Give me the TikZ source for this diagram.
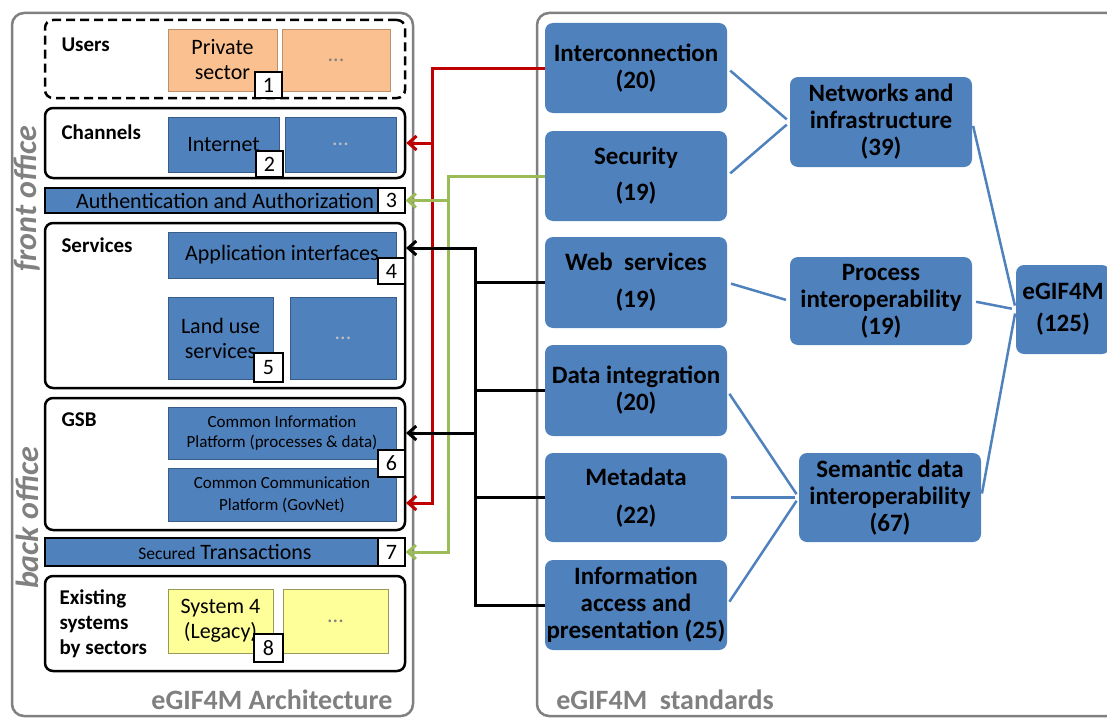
\documentclass[tikz,border=0pt]{standalone}
\usepackage{fontspec}
\setmainfont{Carlito}
\usetikzlibrary{arrows.meta}
\definecolor{stdblue}{RGB}{79,129,189}
\definecolor{edgeblue}{RGB}{56,93,138}
\definecolor{peach}{RGB}{250,192,143}
\definecolor{paleyellow}{RGB}{255,255,153}
\definecolor{panelgray}{RGB}{128,128,128}
\definecolor{linkred}{RGB}{192,0,0}
\definecolor{linkgreen}{RGB}{155,187,89}
\newcommand{\fsz}[2]{\fontsize{#1}{#2}\selectfont}

\begin{document}
\begin{tikzpicture}[x=1pt, y=-1pt,
  panel/.style={draw=panelgray, line width=2.5, rounded corners=12},
  tier/.style={draw, line width=2.5, rounded corners=8, inner sep=0, minimum width=360},
  part/.style={draw=edgeblue, line width=0.8, fill=stdblue, inner sep=0, align=center, font=\fsz{22}{25}},
  userpart/.style={part, draw=peach!75!black, fill=peach},
  legacypart/.style={part, draw=paleyellow!60!black, fill=paleyellow},
  num/.style={draw, fill=white, line width=1.2, inner sep=0, minimum width=27, minimum height=26, font=\fsz{22}{22}},
  tiername/.style={anchor=west, align=left, font=\bfseries\fsz{21}{25}},
  std/.style={fill=stdblue, rounded corners=8, inner sep=0, align=center, minimum width=182, font=\bfseries\fsz{25}{27}},
  paneltitle/.style={text=panelgray, font=\bfseries\fsz{28}{28}},
  office/.style={text=panelgray, rotate=90, font=\bfseries\itshape\fsz{32}{32}},
  link/.style={draw=stdblue, line width=2.5, shorten <=4, shorten >=4},
  bus/.style={line width=3},
  feed/.style={bus, -{Straight Barb[length=8, width=14]}},
]
\useasboundingbox (0,0) rectangle (1107,717);
\clip (0,0) rectangle (1107,717);
% panels
\draw[panel] (12,13) rectangle (413,716);
\draw[panel] (537,13) rectangle (1120,716);
\node[paneltitle, anchor=east] (archtitle) at (396,700) {eGIF4M Architecture};
\node[paneltitle] (stdtitle) at (665,700) {eGIF4M\ \ standards};
\node[office] (front) at (27,199) {front office};
\node[office] (back) at (27,518) {back office};
% users
\node[tier, dash pattern=on 9pt off 5pt, minimum height=78] (users) at (225,59) {};
\node[tiername] (usersname) at (58,45) {Users};
\node[userpart, minimum width=109, minimum height=62] (private) at (222.5,60) {Private\\sector};
\node[userpart, minimum width=108, minimum height=62, text=gray] (dotsA) at (336,60) {...};
\node[num] (num1) at (268.5,85) {1};
% channels
\node[tier, minimum height=70] (channels) at (225,143) {};
\node[tiername] (channelsname) at (58,132) {Channels};
\node[part, minimum width=111, minimum height=55] (internet) at (223.5,144.5) {Internet};
\node[part, minimum width=111, minimum height=55, text=lightgray] (dotsB) at (340.5,144.5) {...};
\node[num] (num2) at (269.5,164) {2};
% authentication
\node[part, draw=black, line width=1.5, minimum width=360, minimum height=25] (auth) at (225,200.5) {Authentication and Authorization};
\node[num, minimum height=25] (num3) at (391.5,200.5) {3};
% services
\node[tier, minimum height=165] (services) at (225,305.5) {};
\node[tiername] (servicesname) at (58,245) {Services};
\node[part, minimum width=228, minimum height=46] (appif) at (282,255) {Application interfaces};
\node[num] (num4) at (391.5,271) {4};
\node[part, minimum width=105, minimum height=82] (landuse) at (220.5,338) {Land use\\services};
\node[part, minimum width=106, minimum height=82, text=lightgray] (dotsC) at (343,338) {...};
\node[num, minimum width=29, minimum height=29] (num5) at (268.5,367.5) {5};
% gsb
\node[tier, minimum height=132] (gsb) at (225,464) {};
\node[tiername] (gsbname) at (58,420) {GSB};
\node[part, minimum width=228, minimum height=52, font=\fsz{17}{20}] (cip) at (282,433) {Common Information\\Platform (processes \& data)};
\node[part, minimum width=228, minimum height=53, font=\fsz{17}{22}] (ccp) at (282,494.5) {Common Communication\\Platform (GovNet)};
\node[num, minimum height=27] (num6) at (391.5,463.5) {6};
% secured transactions
\node[part, draw=black, line width=1.5, minimum width=360, minimum height=28] (secured) at (225,552) {{\fsz{17.5}{22}Secured} Transactions};
\node[num, minimum height=28] (num7) at (391.5,552) {7};
% existing systems
\node[tier, minimum height=95] (existing) at (225,623.5) {};
\node[tiername] (existingname) at (56,624) {Existing\\systems\\by sectors};
\node[legacypart, minimum width=105, minimum height=64] (system4) at (220.5,621) {System 4\\(Legacy)};
\node[legacypart, minimum width=105, minimum height=64, text=gray] (dotsD) at (335.5,621) {...};
\node[num, minimum width=29, minimum height=28] (num8) at (268.5,648) {8};
% standards
\node[std, minimum height=90] (interconn) at (636,68) {Interconnection\\(20)};
\node[std, minimum height=90] (security) at (636,176) {Security\\[9pt](19)};
\node[std, minimum height=91] (webserv) at (636,282.5) {Web\ \ services\\[10pt](19)};
\node[std, minimum height=91] (datainteg) at (636,390.5) {Data integration\\(20)};
\node[std, minimum height=89] (metadata) at (636,497.5) {Metadata\\[11pt](22)};
\node[std, minimum height=90] (info) at (636,605) {Information\\access and\\presentation (25)};
% groups
\node[std, minimum height=90] (networks) at (881,122) {Networks and\\infrastructure\\(39)};
\node[std, minimum height=88] (process) at (881,301) {Process\\interoperability\\(19)};
\node[std, minimum height=89] (semantic) at (890,497.5) {Semantic data\\interoperability\\(67)};
\node[std, minimum width=94, minimum height=89] (egif) at (1063,309.5) {eGIF4M\\[5pt](125)};
% blue links
\draw[link] (interconn.east) -- (networks.west);
\draw[link] (security.east) -- (networks.west);
\draw[link] (webserv.east) -- (process.west);
\draw[link] (datainteg.east) -- (semantic.west);
\draw[link] (metadata.east) -- (semantic.west);
\draw[link] (info.east) -- (semantic.west);
\draw[link] (networks.east) -- (egif.west);
\draw[link] (process.east) -- (egif.west);
\draw[link] (semantic.east) -- (egif.west);
% feeds into the architecture
\coordinate (redbus) at (432,0);
\coordinate (greenbus) at (448,0);
\coordinate (blackbus) at (475,0);
\coordinate (ccpin) at (406,503);
\coordinate (appin) at (406,248);
\coordinate (cipin) at (406,433);
\draw[feed, linkred] (interconn.west) -| (redbus |- ccpin) -- (ccpin);
\draw[feed, linkred] (redbus |- channels.east) -- (channels.east);
\draw[feed, linkgreen] (security.west) -| (greenbus |- num7.east) -- (num7.east);
\draw[feed, linkgreen] (greenbus |- num3.east) -- (num3.east);
\draw[feed] (info.west) -| (blackbus |- appin) -- (appin);
\draw[bus] (webserv.west) -- (webserv.west -| blackbus);
\draw[bus] (datainteg.west) -- (datainteg.west -| blackbus);
\draw[bus] (metadata.west) -- (metadata.west -| blackbus);
\draw[feed] (blackbus |- cipin) -- (cipin);
\end{tikzpicture}
\end{document}
